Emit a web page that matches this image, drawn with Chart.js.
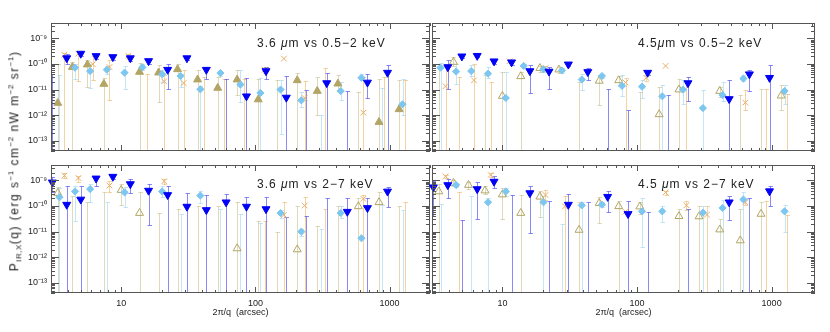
<!DOCTYPE html>
<html>
<head>
<meta charset="utf-8">
<script src="https://cdn.jsdelivr.net/npm/chart.js@4.4.1/dist/chart.umd.min.js"></script>
<style>
  body { margin: 0; background: #fff; }
  #wrap { position: relative; width: 830px; height: 332px; overflow: hidden;
          font-family: "Liberation Sans", Arial, sans-serif; color: #222; }
  #wrap canvas { position: absolute; left: 0; top: 0; }
  .lab { position: absolute; font-size: 12px; line-height: 12px; letter-spacing: 1px; white-space: nowrap; }
  #ytitle { position: absolute; left: 15px; top: 161px; font-size: 12px; letter-spacing: 1.5px;
            white-space: nowrap; transform: translate(-50%, -50%) rotate(-90deg); }
  #ytitle sub, #ytitle sup { font-size: 8px; letter-spacing: 0.5px; }
</style>
</head>
<body>
<div id="wrap">
  <canvas id="tl" width="830" height="332"></canvas>
  <canvas id="tr" width="830" height="332"></canvas>
  <canvas id="bl" width="830" height="332"></canvas>
  <canvas id="br" width="830" height="332"></canvas>
  <div class="lab" style="left:257px;top:37px">3.6 <i>μ</i>m vs 0.5−2 keV</div>
  <div class="lab" style="left:638px;top:37px">4.5<i>μ</i>m vs 0.5−2 keV</div>
  <div class="lab" style="left:257px;top:178px">3.6 <i>μ</i>m vs 2−7 keV</div>
  <div class="lab" style="left:638px;top:178px">4.5 <i>μ</i>m vs 2−7 keV</div>
  <div id="ytitle">P<sub>IR,X</sub>(q) (erg s<sup>−1</sup> cm<sup>−2</sup>  nW m<sup>−2</sup> sr<sup>−1</sup>)</div>
</div>
<script>
// bin centres (arcsec) of each series
const xBlue   = [3.07, 3.93, 5.0, 6.5, 8.67, 11.7, 16.0, 22.2, 30.9, 43.1, 60.5, 85.8, 120, 170, 239, 340, 484, 684, 965];
const xSky    = [3.47, 4.53, 5.87, 7.82, 10.6, 14.4, 20.2, 27.7, 38.9, 54.9, 77.4, 109, 154, 220, 309, 432, 617, 871, 1248];
const xOlive  = [3.37, 4.33, 5.60, 7.43, 10.0, 13.7, 19.0, 26.3, 37.1, 52.4, 73.1, 105, 146, 205, 289, 412, 585, 834, 1178];
const xOrange = [3.78, 4.80, 6.15, 8.18, 11.3, 15.5, 20.9, 29.2, 41.3, 58.2, 82.2, 117, 163, 233, 331, 467, 638, 905, 1298];

// [value, lower, upper]; value 0 = point off the plot (bar only), lower 0 = bar down to the axis
// 3.6 um vs 0.5-2 keV
const tlBlue = [[0,0,4.2e-11],[1.7e-10,1.04e-10,2.55e-10],[2.55e-10,2.1e-10,3.0e-10],[2.06e-10,1.6e-10,2.5e-10],[1.88e-10,1.5e-10,2.2e-10],[1.7e-10,1.3e-10,2.1e-10],[1.31e-10,1.0e-10,1.6e-10],[6.0e-11,1.1e-11,1.04e-10],[1.7e-10,1.5e-10,2.0e-10],[6.0e-11,2.5e-11,7.6e-11],[0,0,2.7e-11],[5.5e-12,0,2.9e-11],[5.3e-11,2.7e-11,7.6e-11],[4.9e-12,0,3.3e-11],[0,0,9.4e-12],[1.8e-11,0,4.6e-11],[0,0,8.9e-12],[1.9e-11,4.7e-12,4.2e-11],[4.6e-11,0,9.5e-11]];
const tlSky = [[0,0,3.6e-11],[7.2e-11,2.7e-11,1.04e-10],[5.3e-11,1.2e-11,1.04e-10],[6.0e-11,4.0e-11,8.0e-11],[4.6e-11,1.1e-11,8.0e-11],[7.4e-11,5.6e-11,1.04e-10],[4.0e-11,2.0e-11,6.0e-11],[3.4e-11,1.3e-11,4.2e-11],[1.03e-11,0,1.4e-11],[4.45e-11,3.5e-11,5.5e-11],[1.57e-11,3.4e-12,5.6e-11],[7.4e-12,0,2.9e-11],[1.0e-11,1.9e-13,2.4e-11],[3.8e-12,2.1e-12,8.0e-12],[0,0,1.0e-12],[8.8e-12,3.8e-12,1.9e-11],[2.9e-11,2.4e-11,4.2e-11],[0,0,1.2e-11],[2.67e-12,1.0e-12,2.6e-11]];
const tlOlive = [[3.0e-12,0,1.0e-10],[7.6e-11,0,1.2e-10],[9.5e-11,1.3e-11,1.4e-10],[1.66e-11,0,2.9e-11],null,[4.9e-11,0,1.07e-10],[4.6e-11,3.4e-12,8.9e-11],[6.2e-11,0,1.04e-10],[2.46e-11,0,5.6e-11],[1.16e-11,0,3.0e-11],[2.46e-11,6.0e-12,5.6e-11],[4.1e-12,0,2.5e-11],[0,0,2.4e-11],[2.3e-11,0,4.6e-11],[8.8e-12,1.0e-12,3.1e-11],[1.7e-11,1.0e-11,3.6e-11],[0,0,8.0e-12],[5.4e-13,0,2.7e-11],[1.7e-12,0,2.3e-11]];
const tlOrange = [[2.3e-10,0,2.8e-10],[2.55e-10,2.2e-11,3.0e-10],[9.8e-11,2.4e-11,2.1e-10],[7.6e-11,3.8e-12,1.45e-10],[2.1e-10,1.6e-10,2.5e-10],[0,0,4.2e-11],[2.1e-11,0,3.6e-11],[1.8e-11,0,5.6e-11],[0,0,3.0e-11],[0,0,2.7e-11],[0,0,2.5e-11],[6.0e-11,4.5e-11,7.5e-11],[1.63e-10,null,null],[4.7e-12,0,2.2e-11],[0,0,7.0e-11],null,[1.26e-12,0,3.1e-11],[0,0,3.0e-11],[0,0,2.3e-11]];

// 4.5 um vs 0.5-2 keV
const trBlue = [null,[7.6e-11,1.1e-11,1.4e-10],[2.0e-10,1.7e-10,2.4e-10],[2.1e-10,1.8e-10,2.5e-10],[1.28e-10,1.0e-10,1.5e-10],[1.17e-10,9.0e-11,1.4e-10],[5.3e-11,7.4e-12,9.5e-11],[5.1e-11,1.03e-11,7.6e-11],[9.7e-11,8.0e-11,1.1e-10],[4.9e-11,2.4e-11,6.9e-11],[0,0,1.1e-11],[0,0,1.56e-12],[4.6e-11,3.8e-11,5.5e-11],[0,0,6.1e-12],[1.8e-11,3.7e-12,3.1e-11],null,[4.3e-12,0,2.4e-11],[4.0e-11,8.8e-12,5.6e-11],[2.9e-11,0,8.9e-11]];
const trSky = [[7.2e-11,0,1.07e-10],[5.1e-11,1.6e-11,1.04e-10],[5.3e-11,3.5e-11,9.5e-11],[4.2e-11,2.8e-11,7.6e-11],[4.7e-12,0,4.9e-11],[8.4e-11,7.0e-11,1.0e-10],[6.2e-11,5.0e-11,7.5e-11],[5.6e-11,4.5e-11,7.0e-11],[2.46e-11,1.0e-11,4.0e-11],[3.4e-11,2.8e-11,4.2e-11],[1.4e-11,5.5e-12,3.6e-11],[1.3e-11,4.6e-12,2.4e-11],[5.5e-12,0,1.5e-11],[1.0e-11,2.8e-12,2.4e-11],[1.9e-12,0,9.4e-12],[6.1e-12,3.7e-12,1.9e-11],[2.7e-11,2.2e-11,3.6e-11],null,[8.8e-12,2.8e-12,1.57e-11]];
const trOlive = [[0,0,8.0e-11],[1.2e-10,8.0e-11,1.9e-10],null,[0,0,3.6e-11],[5.6e-12,0,4.9e-11],[3.3e-11,0,4.9e-11],[6.9e-11,5.0e-11,8.5e-11],[6.05e-11,4.5e-11,7.5e-11],[0,0,1.9e-11],[2.2e-11,2.6e-12,3.6e-11],[2.3e-11,1.5e-11,3.5e-11],[0,0,8.0e-12],[1.08e-12,0,1.3e-11],[1.0e-11,0,2.6e-11],null,[8.8e-12,5.0e-12,1.3e-11],[0,0,6.0e-12],[0,0,1.1e-11],[5.8e-12,1.6e-12,1.5e-11]];
const trOrange = [[1.36e-11,0,1.04e-10],[0,0,3.1e-11],[2.3e-11,0,1.04e-10],[0,0,1.9e-11],[1.28e-10,1.1e-10,1.5e-10],null,[6.9e-11,5.5e-11,8.5e-11],null,null,null,[1.9e-11,0,2.8e-11],[2.9e-11,2.2e-11,3.8e-11],[8.4e-11,null,null],[0,0,2.2e-11],null,null,[3.1e-12,1.6e-12,9.4e-12],[0,0,1.1e-11],[0,0,6.5e-12]];

// 3.6 um vs 2-7 keV
const blBlue = [[8.4e-10,3.5e-10,1.36e-9],[1.13e-10,0,5.9e-10],[1.8e-10,0,6.2e-10],[1.2e-9,6.2e-10,1.4e-9],[1.4e-9,1.1e-9,1.6e-9],[7.2e-10,3.1e-10,1.1e-9],[4.0e-10,1.8e-11,7.2e-10],[2.7e-10,0,5.9e-10],[9.5e-11,0,3.3e-10],[7.0e-11,0,2.8e-10],[1.4e-10,0,3.0e-10],[9.5e-11,0,2.3e-10],[7.6e-11,0,2.3e-10],[0,0,3.6e-11],[0,0,4.2e-11],[0,0,2.0e-10],[6.0e-11,0,2.0e-10],[8.4e-11,0,2.1e-10],[3.7e-10,9.4e-11,5.3e-10]];
const blSky = [[2.2e-10,0,5.0e-10],[3.7e-10,2.6e-11,6.2e-10],[4.6e-10,1.4e-10,7.2e-10],[0,0,1.4e-10],[3.4e-10,9.4e-11,5.3e-10],null,[3.7e-10,2.2e-10,5.8e-10],[0,0,4.9e-11],[2.55e-10,1.3e-10,4.0e-10],[0,0,7.6e-11],[0,0,4.9e-11],[0,0,2.2e-11],[5.3e-11,3.5e-11,7.0e-11],[1.0e-11,7.0e-12,1.3e-11],[0,0,1.26e-11],[5.3e-11,3.5e-11,1.0e-10],[5.5e-12,null,null],[0,0,1.06e-10],[0,0,7.2e-11]];
const blOlive = [[3.2e-10,0,5.3e-10],[0,0,2.55e-10],[0,0,1.4e-10],[0,0,3.5e-10],[4.2e-10,1.1e-10,7.2e-10],[5.3e-11,0,3.5e-10],[0,0,5.5e-11],[0,0,7.6e-11],[0,0,1.0e-10],[0,0,1.0e-10],[2.2e-12,0,1.4e-10],[0,0,2.6e-11],[0,0,9.7e-12],[2.0e-12,0,1.0e-10],[0,0,1.7e-11],[0,0,1.0e-10],[9.7e-11,0,2.1e-10],[1.4e-10,0,3.5e-10],[0,0,1.0e-10]];
const blOrange = [[1.54e-9,1.2e-9,1.9e-9],[1.24e-9,9.0e-10,1.5e-9],null,[6.3e-10,3.5e-10,9.3e-10],null,null,[9.2e-10,7.5e-10,1.1e-9],null,null,null,null,[0,0,2.6e-11],[4.5e-11,0,1.4e-10],[1.04e-10,0,2.2e-10],[0,0,7.6e-11],null,[1.9e-10,0,2.6e-10],null,[0,0,1.4e-10]];

// 4.5 um vs 2-7 keV
const brBlue = [[5.4e-10,4.2e-11,9.7e-10],[6.6e-10,2.0e-10,1.1e-9],[0,0,2.8e-11],[4.6e-10,3.1e-11,8.5e-10],[9.0e-10,5.0e-10,1.5e-9],[0,0,2.7e-10],[3.2e-10,8.5e-12,5.9e-10],[0,0,1.6e-10],[1.13e-10,0,3.0e-10],[0,0,1.4e-10],[2.3e-10,5.6e-11,3.7e-10],[4.9e-11,0,1.6e-10],[0,0,5.6e-11],null,[0,0,7.6e-11],null,[1.4e-10,2.9e-11,2.4e-10],[0,0,2.0e-10],[3.8e-10,9.7e-11,6.2e-10]];
const brSky = [[0,0,1.2e-10],[6.6e-10,5.5e-10,8.0e-10],[0,0,2.4e-10],[1.4e-10,0,2.0e-10],[3.7e-10,2.5e-10,5.0e-10],null,[1.4e-10,0,2.4e-10],[0,0,1.9e-11],[1.06e-10,0,1.5e-10],[1.13e-10,9.0e-11,1.4e-10],null,[6.2e-11,2.6e-12,2.0e-10],[6.2e-11,2.4e-11,1.0e-10],null,[5.5e-11,0,1.0e-10],[8.4e-11,0,1.7e-10],[1.8e-10,0,3.5e-10],null,[6.2e-11,1.0e-11,1.07e-10]];
const brOlive = [[3.7e-10,0,7.0e-10],[7.9e-10,6.0e-10,1.0e-9],[6.6e-10,4.5e-10,8.5e-10],[4.0e-10,3.0e-10,6.0e-10],[2.8e-10,3.2e-11,5.0e-10],[5.3e-11,0,2.8e-10],[2.3e-10,3.6e-11,3.7e-10],null,[1.16e-11,0,1.5e-10],[1.3e-10,2.1e-11,2.2e-10],[9.7e-11,0,1.6e-10],[9.5e-11,5.0e-11,1.5e-10],null,[4.0e-11,0,7.6e-11],[3.9e-11,0,1.0e-10],[1.2e-11,0,3.0e-11],[4.5e-12,0,7.6e-11],[4.9e-11,0,1.4e-10],null];
const brOrange = [[1.44e-9,1.2e-9,1.7e-9],[0,0,3.6e-10],null,[1.63e-9,1.4e-9,1.9e-9],null,null,[2.7e-10,1.7e-10,4.3e-10],[9.7e-11,0,2.4e-10],null,null,[6.0e-11,null,null],null,[3.4e-10,2.8e-10,4.0e-10],[1.07e-10,7.0e-11,1.6e-10],[4.6e-11,0,1.0e-10],null,[1.4e-10,1.1e-10,1.8e-10],[0,0,1.6e-10],[0,0,4.6e-11]];

const yTicks = [1e-13, 1e-12, 1e-11, 1e-10, 1e-9];
const xTicks = [10, 100, 1000];

const Y_MIN = 4e-14, Y_MAX = 4e-9, X_MIN = 3;
const YAXIS_W = 40, XAXIS_H = 29;
const SUP = {'-': '⁻', '0': '⁰', '1': '¹', '2': '²', '3': '³', '4': '⁴', '5': '⁵', '6': '⁶', '7': '⁷', '8': '⁸', '9': '⁹'};
const FONT = '"Liberation Sans", Arial, sans-serif';

const BLUE = '#0000f5', SKY = '#7cc6f0', OLIVE = '#b2a565', ORANGE = '#e9ad68';

// vertical error bars, drawn under the markers
const errBars = {
  id: 'errBars',
  beforeDatasetsDraw(chart) {
    const {ctx, chartArea: a, scales: {x, y}} = chart;
    ctx.save();
    ctx.beginPath();
    ctx.rect(a.left, a.top, a.right - a.left, a.bottom - a.top);
    ctx.clip();
    ctx.lineWidth = 1;
    chart.data.datasets.slice().reverse().forEach(ds => {
      ctx.strokeStyle = ds.barColor;
      ds.errs.forEach(e => {
        if (!e || e.hi == null) return;
        const px = Math.round(x.getPixelForValue(e.x)) + 0.5;
        const top = Math.round(y.getPixelForValue(e.hi)) + 0.5;
        const bot = e.lo > 0 ? Math.round(y.getPixelForValue(e.lo)) + 0.5 : a.bottom;
        ctx.beginPath();
        ctx.moveTo(px, top); ctx.lineTo(px, bot);
        ctx.moveTo(px - 2, top); ctx.lineTo(px + 2.5, top);
        if (e.lo > 0) { ctx.moveTo(px - 2, bot); ctx.lineTo(px + 2.5, bot); }
        ctx.stroke();
      });
    });
    ctx.restore();
  }
};

// box with inward IDL style ticks
const frame = {
  id: 'frame',
  afterDraw(chart) {
    const {ctx, chartArea: a, scales: {x, y}} = chart;
    ctx.save();
    ctx.strokeStyle = '#555';
    ctx.lineWidth = 1;
    ctx.strokeRect(a.left + 0.5, a.top + 0.5, a.right - a.left - 1, a.bottom - a.top - 1);
    ctx.beginPath();
    for (let d = 0; d <= 3; d++) {
      for (let m = 1; m <= 9; m++) {
        const v = m * Math.pow(10, d);
        if (v < x.min || v > x.max) continue;
        const p = Math.round(x.getPixelForValue(v)) + 0.5;
        const len = m === 1 ? 6 : 3;
        ctx.moveTo(p, a.bottom); ctx.lineTo(p, a.bottom - len);
        ctx.moveTo(p, a.top); ctx.lineTo(p, a.top + len);
      }
    }
    for (let d = -14; d <= -9; d++) {
      for (let m = 1; m <= 9; m++) {
        const v = m * Math.pow(10, d);
        if (v < y.min || v > y.max) continue;
        const p = Math.round(y.getPixelForValue(v)) + 0.5;
        const len = m === 1 ? 8 : 4;
        ctx.moveTo(a.left, p); ctx.lineTo(a.left + len, p);
        ctx.moveTo(a.right, p); ctx.lineTo(a.right - len, p);
      }
    }
    ctx.stroke();
    ctx.restore();
  }
};

function series(xs, vals, style) {
  return Object.assign({
    data: xs.map((x, i) => ({x: x, y: vals[i] && vals[i][0] > 0 ? vals[i][0] : null})),
    errs: xs.map((x, i) => vals[i] ? {x: x, lo: vals[i][1], hi: vals[i][2]} : null),
    showLine: false,
    clip: false
  }, style);
}

function panel(id, area, xMax, sets, oliveFilled, showX, showY) {
  const datasets = [
    series(xBlue, sets[0], {pointStyle: 'triangle', rotation: 180, pointRadius: 4.6,
      backgroundColor: BLUE, borderColor: BLUE, borderWidth: 1, barColor: 'rgba(60,60,240,0.6)'}),
    series(xSky, sets[1], {pointStyle: 'rectRot', pointRadius: 3.6,
      backgroundColor: SKY, borderColor: SKY, borderWidth: 1, barColor: 'rgba(140,205,240,0.5)'}),
    series(xOrange, sets[3], {pointStyle: 'crossRot', pointRadius: 4,
      backgroundColor: ORANGE, borderColor: ORANGE, borderWidth: 1, barColor: 'rgba(235,165,70,0.5)'}),
    series(xOlive, sets[2], {pointStyle: 'triangle', pointRadius: 4.6,
      backgroundColor: oliveFilled ? OLIVE : 'rgba(0,0,0,0)', borderColor: OLIVE, borderWidth: 1,
      barColor: 'rgba(185,170,105,0.45)'})
  ];
  new Chart(document.getElementById(id), {
    type: 'scatter',
    data: {datasets: datasets},
    options: {
      responsive: false,
      animation: false,
      devicePixelRatio: 1,
      layout: {padding: {left: area.l - YAXIS_W, top: area.t, right: 830 - area.r, bottom: 332 - area.b - XAXIS_H}},
      plugins: {legend: {display: false}, tooltip: {enabled: false}},
      scales: {
        x: {
          type: 'logarithmic', min: X_MIN, max: xMax,
          grid: {display: false, drawTicks: false}, border: {display: false},
          afterFit: s => { s.height = XAXIS_H; },
          afterBuildTicks: s => { s.ticks = xTicks.map(v => ({value: v})); },
          ticks: {display: showX, padding: 5, autoSkip: false, maxRotation: 0, color: '#222',
                  font: {family: FONT, size: 9}, callback: v => String(v)},
          title: {display: showX, text: '2π/q  (arcsec)', color: '#222', padding: {top: 0, bottom: 4},
                  font: {family: FONT, size: 9}}
        },
        y: {
          type: 'logarithmic', min: Y_MIN, max: Y_MAX,
          grid: {display: false, drawTicks: false}, border: {display: false},
          afterFit: s => { s.width = YAXIS_W; },
          afterBuildTicks: s => { s.ticks = yTicks.map(v => ({value: v})); },
          ticks: {display: showY, padding: 4, autoSkip: false, color: '#222',
                  font: {family: FONT, size: 9},
                  callback: v => '10' + String(Math.round(Math.log10(v))).split('').map(c => SUP[c]).join('')}
        }
      }
    },
    plugins: [errBars, frame]
  });
}

panel('tl', {l: 51, t: 23, r: 430, b: 151}, 2000, [tlBlue, tlSky, tlOlive, tlOrange], true, false, true);
panel('tr', {l: 432, t: 23, r: 815, b: 151}, 2100, [trBlue, trSky, trOlive, trOrange], false, false, false);
panel('bl', {l: 51, t: 165, r: 430, b: 293}, 2000, [blBlue, blSky, blOlive, blOrange], false, true, true);
panel('br', {l: 432, t: 165, r: 815, b: 293}, 2100, [brBlue, brSky, brOlive, brOrange], false, true, false);
</script>
</body>
</html>
